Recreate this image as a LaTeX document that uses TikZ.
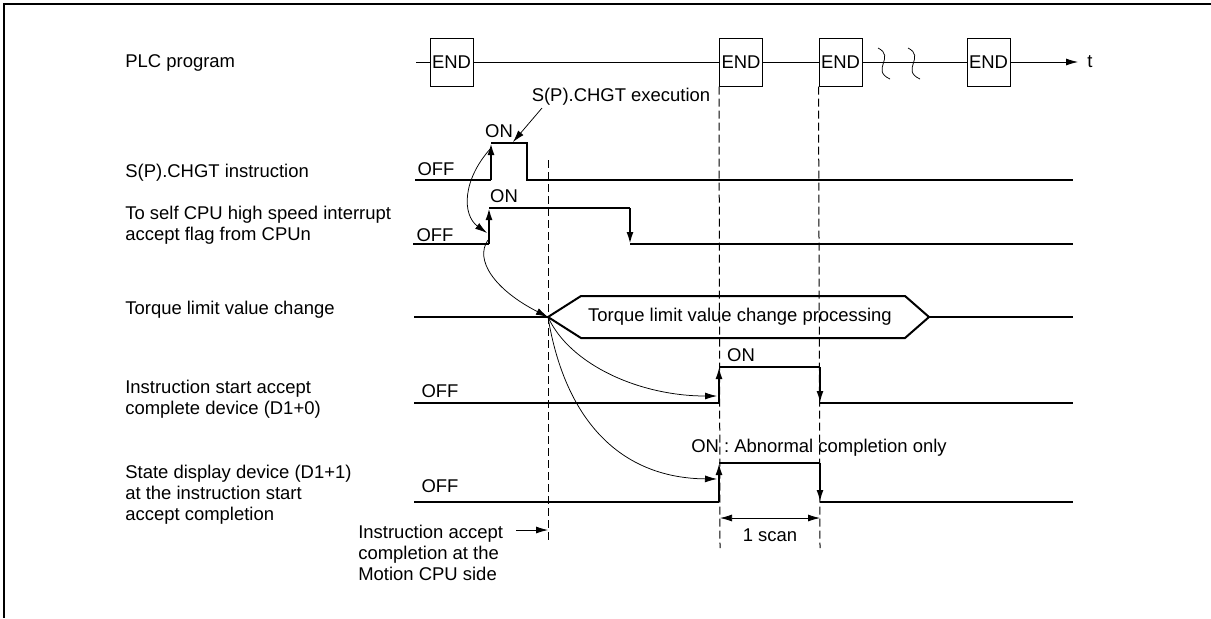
\documentclass[tikz,border=0pt]{standalone}
\usepackage{fontspec}
\setmainfont{Liberation Sans}
\usetikzlibrary{arrows.meta}
\tikzset{
  sig/.style={line width=0.4mm},
  link/.style={line width=0.15mm},
  guide/.style={line width=0.2mm, dash pattern=on 1.6mm off 0.8mm},
  tip/.style={-{Latex[length=2.4mm,width=1.4mm]}},
  lbl/.style={anchor=west, inner sep=0pt, align=left},
  endbox/.style={draw, line width=0.2mm, minimum width=8.6mm, minimum height=9.6mm, inner sep=0pt},
}
\begin{document}
\begin{tikzpicture}[x=0.2mm,y=-0.2mm,font=\fontsize{10.5}{12}\selectfont]
    \useasboundingbox (0,0) rectangle (1211,618);
    % Frame
    \draw[line width=0.5mm] (1211,4) -- (4,4) -- (4,618);
    % Row labels
    \node[lbl] (plc)    at (125,63)  {PLC program};
    \node[lbl] (chgt)   at (125,173) {S(P).CHGT instruction};
    \node[lbl] (flag)   at (125,225) {To self CPU high speed interrupt\\accept flag from CPUn};
    \node[lbl] (torque) at (125,310) {Torque limit value change};
    \node[lbl] (start)  at (125,399) {Instruction start accept\\complete device (D1+0)};
    \node[lbl] (state)  at (125,495) {State display device (D1+1)\\at the instruction start\\accept completion};
    % PLC program scans
    \node[endbox] (e1) at (451.5,62) {END};
    \node[endbox] (e2) at (741,62)   {END};
    \node[endbox] (e3) at (840.5,62) {END};
    \node[endbox] (e4) at (988.5,62) {END};
    \coordinate (p0) at (416,62);
    \coordinate (tend) at (1078,62);
    \node[anchor=west, inner sep=0pt] (tlab) at (1087,62) {t};
    \draw[link] (p0) -- (e1) -- (e2) -- (e3) -- (e4);
    \draw[link,tip] (e4) -- (tend);
    \foreach \bx in {878,908}
        \draw[link] (\bx,48) .. controls (\bx+18,57) and (\bx-8,70) .. (\bx+12,79);
    % Timing guides
    \draw[guide] (e2.south west) -- (720,548);
    \draw[guide] (e3.south west) -- (820,548);
    \draw[guide] (548,160) -- (548,543);
    % S(P).CHGT instruction
    \draw[sig] (415,180) -- (491,180);
    \draw[sig,tip] (491,180) -- (491,143);
    \draw[sig] (491,143) -- (527,143) -- (527,180) -- (1073,180);
    \node (off1) at (436,169) {OFF};
    \node (on1)  at (499,131) {ON};
    \node (exec) at (621,97)  {S(P).CHGT execution};
    \coordinate (x1) at (542,108);
    \coordinate (x2) at (513,142);
    \draw[link,tip] (x1) -- (x2);
    % Interrupt accept flag
    \draw[sig] (413,244) -- (489,244);
    \draw[sig,tip] (489,244) -- (489,208);
    \draw[sig] (489,208) -- (630,208);
    \draw[sig,tip] (630,208) -- (630,244);
    \draw[sig] (630,244) -- (1073,244);
    \node (off2) at (435,235) {OFF};
    \node (on2)  at (504,196) {ON};
    % Torque limit value change
    \coordinate (tq) at (548,317);
    \draw[sig] (414,317) -- (tq);
    \draw[sig] (tq) -- (581,296) -- (905,296) -- (929,317) -- (905,338) -- (581,338) -- cycle;
    \draw[sig] (929,317) -- (1073,317);
    \node (proc) at (740,317) {Torque limit value change processing};
    % Instruction start accept complete device
    \draw[sig] (414,403) -- (719,403);
    \draw[sig,tip] (719,403) -- (719,367);
    \draw[sig] (719,367) -- (820,367);
    \draw[sig,tip] (820,367) -- (820,403);
    \draw[sig] (820,403) -- (1073,403);
    \node (off3) at (440,391) {OFF};
    \node (on3)  at (741,355) {ON};
    % State display device
    \draw[sig] (414,502) -- (719,502);
    \draw[sig,tip] (719,502) -- (719,463);
    \draw[sig] (719,463) -- (820,463);
    \draw[sig,tip] (820,463) -- (820,502);
    \draw[sig] (820,502) -- (1073,502);
    \node (off4) at (440,486) {OFF};
    \node (on4)  at (819,448) {ON : Abnormal completion only};
    % Cause and effect
    \coordinate (r1) at (491,148);
    \coordinate (r2) at (487,233);
    \coordinate (r2b) at (488,240);
    \coordinate (r3) at (717,396);
    \coordinate (r4) at (717,479);
    \draw[link,tip] (r1) .. controls (462,180) and (462,215) .. (r2);
    \draw[link,tip] (r2b) .. controls (474,260) and (495,290) .. (tq);
    \draw[link,tip] (tq) .. controls (570,365) and (640,396) .. (r3);
    \draw[link,tip] (tq) .. controls (565,420) and (620,478) .. (r4);
    % One scan
    \coordinate (s1) at (720,518);
    \coordinate (s2) at (820,518);
    \draw[link,{Latex[length=2.4mm,width=1.4mm]}-{Latex[length=2.4mm,width=1.4mm]}] (s1) -- (s2);
    \node (scan) at (770,535) {1 scan};
    % Motion CPU side
    \node[lbl] (acc) at (358,553) {Instruction accept\\completion at the\\Motion CPU side};
    \coordinate (a1) at (516,530);
    \coordinate (a2) at (548,530);
    \draw[link,tip] (a1) -- (a2);
\end{tikzpicture}
\end{document}
